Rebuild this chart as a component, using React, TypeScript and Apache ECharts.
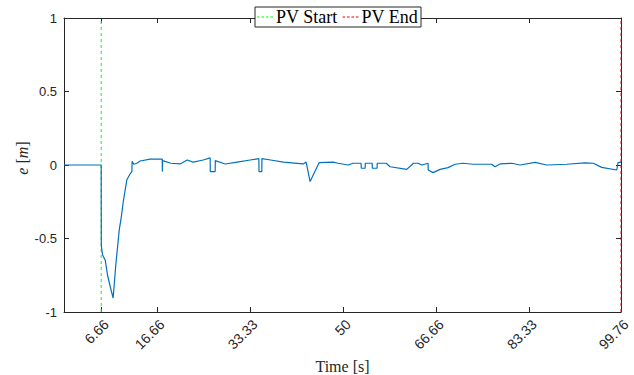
import React, { useEffect, useRef } from "react";
import * as echarts from "echarts";

// Time stamps [s] and tracking error e [m]
const timeValues = [
  0, 6.66, 6.68, 6.9, 7.4, 7.8, 8.3, 8.8, 9.3, 9.9, 10.24, 10.65, 11.26, 11.85, 12.16,
  12.2, 12.5, 13.05, 13.64, 15.43, 17.6, 17.62, 17.66, 19.14, 20.8, 22.06, 23.13,
  24.93, 26.18, 26.2, 27.07, 27.1, 28.86, 31.0, 33.34, 34.9, 34.92, 35.43, 35.45,
  37.0, 39.3, 42.83, 43.37, 44.08, 45.69, 48.2, 49.09, 50.88, 51.78, 53.2, 53.25,
  53.93, 53.96, 55.2, 55.22, 56.08, 56.1, 57.7, 58.4, 61.4, 62.58, 63.42, 64.08,
  65.21, 65.23, 66.1, 67.36, 68.79, 70.05, 71.48, 73.27, 76.6, 77.2, 78.1, 80.2,
  81.68, 84.37, 86.46, 90.04, 93.32, 94.8, 96.3, 99.0, 99.23, 99.76,
];
const errorValues = [
  0, 0, -0.55, -0.61, -0.65, -0.75, -0.83, -0.905, -0.67, -0.44, -0.36, -0.24, -0.1,
  -0.06, -0.045, 0.025, 0.005, 0.012, 0.027, 0.04, 0.04, -0.045, 0.03, 0.012, 0.007,
  0.034, 0.02, 0.034, 0.048, -0.045, -0.045, 0.03, 0.007, 0.02, 0.034, 0.043, -0.045,
  -0.045, 0.043, 0.034, 0.02, 0.007, 0.02, -0.113, 0.016, 0.02, 0.012, 0.0, 0.012,
  0.012, -0.022, -0.022, 0.012, 0.012, -0.022, -0.022, 0.012, 0.012, -0.012, -0.03,
  0.012, 0.012, 0.0, 0.012, -0.034, -0.052, -0.03, -0.018, 0.005, 0.012, 0.005,
  0.005, -0.012, 0.007, 0.012, 0.0, 0.018, 0.0, 0.005, 0.014, 0.012, -0.016, -0.034,
  0.016, 0.02,
];
const xTickValues = [6.66, 16.66, 33.33, 50, 66.66, 83.33, 99.76];
const pvStart = 6.66;
const pvEnd = 99.76;
const legendNames = ["PV Start", "PV End"];

const AX = "#262626";
const DASH_ICON = "path://M0,0h3v1h-3zM5,0h3v1h-3zM10,0h3v1h-3zM15,0h3v1h-3z";

export default function App() {
  const ref = useRef<HTMLDivElement>(null);
  useEffect(() => {
    if (!ref.current) return;
    const chart = echarts.init(ref.current, null, { renderer: "svg" });
    const xCommon = {
      type: "value",
      min: 0,
      max: pvEnd,
      splitLine: { show: false },
      axisLine: { onZero: false, lineStyle: { color: AX, width: 1 } },
    };
    chart.setOption({
      animation: false,
      backgroundColor: "#ffffff",
      grid: { left: 64, right: 13, top: 18, bottom: 63, containLabel: false, outerBoundsMode: "none" },
      legend: {
        data: legendNames.map((n) => ({ name: n, icon: DASH_ICON })),
        left: 255,
        top: 7,
        padding: [1, 3, 1, 2],
        itemGap: 5,
        itemWidth: 16,
        itemHeight: 1,
        backgroundColor: "#ffffff",
        borderColor: AX,
        borderWidth: 1,
        borderRadius: 0,
        textStyle: { fontFamily: "Liberation Serif", fontSize: 18, color: "#000", padding: [0, 0, 0, -2] },
      },
      xAxis: [
        {
          ...xCommon,
          position: "bottom",
          name: "Time [s]",
          nameLocation: "middle",
          nameGap: 46,
          nameMoveOverlap: false,
          nameTextStyle: { fontFamily: "Liberation Serif", fontSize: 16, color: AX },
          axisTick: { show: true, inside: true, length: 5, customValues: xTickValues, lineStyle: { color: AX } },
          axisLabel: {
            customValues: xTickValues,
            rotate: 45,
            margin: 5,
            verticalAlign: "top",
            fontFamily: "Liberation Sans",
            fontSize: 14,
            color: AX,
            formatter: (v: number) => String(v),
          },
        },
        {
          ...xCommon,
          position: "top",
          axisTick: { show: true, inside: true, length: 5, customValues: xTickValues, lineStyle: { color: AX } },
          axisLabel: { show: false },
        },
      ],
      yAxis: [
        {
          type: "value",
          min: -1,
          max: 1,
          interval: 0.5,
          position: "left",
          splitLine: { show: false },
          axisLine: { show: true, onZero: false, lineStyle: { color: AX, width: 1 } },
          axisTick: { show: true, inside: true, length: 5, lineStyle: { color: AX } },
          axisLabel: { fontFamily: "Liberation Sans", fontSize: 13, color: AX, margin: 7 },
          name: "{i|e} [{i|m}]",
          nameLocation: "middle",
          nameGap: 34,
          nameMoveOverlap: false,
          nameTextStyle: {
            fontFamily: "Liberation Serif",
            fontSize: 16,
            color: AX,
            padding: [0, 0, 0, 14],
            rich: { i: { fontFamily: "Liberation Serif", fontStyle: "italic", fontSize: 16, color: AX } },
          },
        },
        {
          type: "value",
          min: -1,
          max: 1,
          interval: 0.5,
          position: "right",
          splitLine: { show: false },
          axisLine: { show: true, onZero: false, lineStyle: { color: AX, width: 1 } },
          axisTick: { show: true, inside: true, length: 5, lineStyle: { color: AX } },
          axisLabel: { show: false },
        },
      ],
      series: [
        {
          name: "e",
          type: "line",
          data: timeValues.map((t, i) => [t, errorValues[i]]),
          symbol: "none",
          lineStyle: { color: "#0072BD", width: 1.2 },
          itemStyle: { color: "#0072BD" },
          z: 3,
        },
        {
          name: legendNames[0],
          type: "line",
          data: [[pvStart, -1], [pvStart, 1]],
          symbol: "none",
          lineStyle: { color: "#00ff00", width: 1, type: [3, 3] },
          itemStyle: { color: "#00ff00" },
          z: 2,
        },
        {
          name: legendNames[1],
          type: "line",
          data: [[pvEnd, -1], [pvEnd, 1]],
          symbol: "none",
          lineStyle: { color: "#ff0000", width: 1, type: [3, 3] },
          itemStyle: { color: "#ff0000" },
          z: 4,
        },
      ],
    });
    return () => chart.dispose();
  }, []);
  return (
    <div
      ref={ref}
      style={{ position: "fixed", left: 0, top: 0, width: 634, height: 375 }}
    />
  );
}
